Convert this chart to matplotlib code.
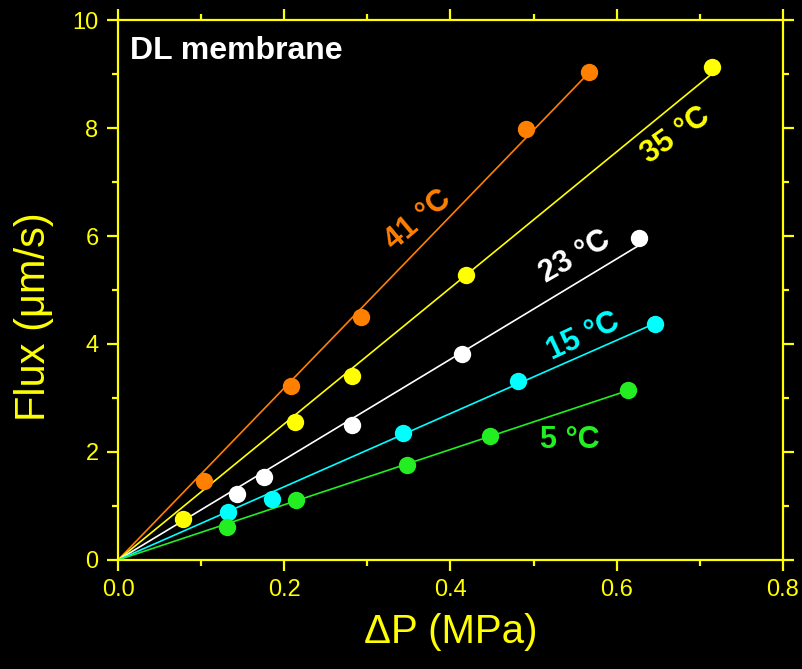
import numpy as np
import matplotlib
matplotlib.use('Agg')
import matplotlib.pyplot as plt

plt.rcParams['font.family'] = ['Liberation Sans', 'DejaVu Sans']

# data: dP (MPa) vs flux (um/s)
temps = ['41 °C', '35 °C', '23 °C', '15 °C', '5 °C']
colors = ['#ff7f00', '#ffff00', '#ffffff', '#00ffff', '#22ee22']
dp_41 = [0.1035, 0.208, 0.292, 0.491, 0.567]
flux_41 = [1.46, 3.22, 4.50, 7.98, 9.04]
dp_35 = [0.078, 0.213, 0.282, 0.419, 0.715]
flux_35 = [0.75, 2.56, 3.41, 5.28, 9.13]
dp_23 = [0.143, 0.176, 0.282, 0.414, 0.627]
flux_23 = [1.22, 1.54, 2.50, 3.81, 5.96]
dp_15 = [0.132, 0.185, 0.343, 0.481, 0.646]
flux_15 = [0.89, 1.13, 2.35, 3.31, 4.37]
dp_5 = [0.131, 0.214, 0.348, 0.447, 0.614]
flux_5 = [0.61, 1.11, 1.76, 2.30, 3.15]

series = [(dp_41, flux_41), (dp_35, flux_35), (dp_23, flux_23),
          (dp_15, flux_15), (dp_5, flux_5)]

# label placement (data coords) and rotation
label_pos = [(0.361, 6.30, 40), (0.671, 7.87, 35), (0.550, 5.61, 30),
             (0.560, 4.13, 25), (0.544, 2.22, 0)]

fig = plt.figure(figsize=(8.03, 6.69), dpi=100, facecolor='black')
ax = fig.add_axes([0.147, 0.163, 0.828, 0.807], facecolor='black')

for (x, y), c, t, (lx, ly, rot) in zip(series, colors, temps, label_pos):
    x = np.array(x)
    y = np.array(y)
    k = np.sum(x * y) / np.sum(x * x)  # fit through origin
    xl = np.array([0, x.max()])
    ax.plot(xl, k * xl, color=c, lw=1.2, zorder=2)
    ax.plot(x, y, 'o', color=c, ms=12.5, mec='none', zorder=3)
    ax.text(lx, ly, t, color=c, fontsize=22, fontweight='bold',
            rotation=rot, ha='center', va='center', rotation_mode='anchor')

ax.text(0.0144, 9.43, 'DL membrane', color='white', fontsize=23,
        fontweight='bold', ha='left', va='center')

ax.set_xlim(0, 0.8)
ax.set_ylim(0, 10)
ax.set_xticks([0, 0.2, 0.4, 0.6, 0.8])
ax.set_xticklabels(['0.0', '0.2', '0.4', '0.6', '0.8'])
ax.set_xticks(np.arange(0.1, 0.8, 0.2), minor=True)
ax.set_yticks([0, 2, 4, 6, 8, 10])
ax.set_yticks([1, 3, 5, 7, 9], minor=True)

yel = '#ffff00'
for s in ax.spines.values():
    s.set_color(yel)
    s.set_linewidth(1.6)
ax.tick_params(which='both', direction='out', color=yel, width=1.6,
               top=True, right=True, labelcolor=yel, labelsize=17)
ax.tick_params(which='major', length=8, pad=6)
ax.tick_params(which='minor', length=4.5)

ax.set_xlabel('ΔP (MPa)', color=yel, fontsize=29, labelpad=8)
ax.set_ylabel('Flux (μm/s)', color=yel, fontsize=30)
ax.yaxis.set_label_coords(-0.097, 0.45)

fig.savefig('out.png', dpi=100, facecolor='black')
